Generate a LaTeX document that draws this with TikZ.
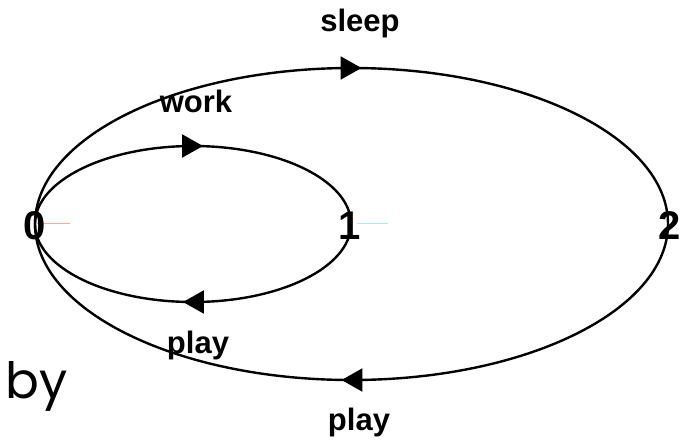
\documentclass[tikz,border=0pt]{standalone}
\usepackage{fontspec}
\setmainfont{Liberation Sans}
\newfontfamily\byfont{Poppins}
\usetikzlibrary{arrows.meta,decorations.markings}

\begin{document}
\begin{tikzpicture}[x=1pt,y=1pt,
  curve/.style={line width=2.4pt, postaction={decorate}, decoration={markings,
    mark=at position 0.5 with {\arrow[xshift=10pt]{Triangle[length=21pt,width=23pt]}}}},
  state/.style={font=\fontsize{40}{42}\selectfont\bfseries, inner sep=0pt, anchor=base},
  lbl/.style={font=\fontsize{31}{34}\selectfont\bfseries, inner sep=0pt, anchor=base}]
\useasboundingbox (0,0) rectangle (687,-442);

% states on the middle line
\coordinate (p0) at (35,-224);
\coordinate (p1) at (351,-224);
\coordinate (p2) at (668,-224);

% inner loop 0 -> 1 -> 0
\draw[curve] (p0) arc[start angle=180, end angle=0, x radius=158, y radius=78];
\draw[curve] (p1) arc[start angle=0, end angle=-180, x radius=158, y radius=78];
% outer loop 0 -> 2 -> 0
\draw[curve] (p0) arc[start angle=180, end angle=0, x radius=316.5, y radius=156];
\draw[curve] (p2) arc[start angle=0, end angle=-180, x radius=316.5, y radius=156];

% faint ticks
\draw[red!35, line width=0.7pt] (p0) ++(2,1) -- (70,-223);
\draw[cyan!30, line width=0.7pt] (p1) ++(6,1) -- (388,-223);

\node[state] (s0) at (35,-239) {0};
\node[state] (s1) at (350,-239) {1};
\node[state] (s2) at (670,-239) {2};

\node[lbl] (sleep) at (360,-31) {sleep};
\node[lbl] (work) at (196,-112) {work};
\node[lbl] (play1) at (198,-353) {play};
\node[lbl] (play2) at (359,-430) {play};

\node[font=\byfont\fontsize{50}{56}\selectfont, anchor=base west, inner sep=0pt] (by) at (5,-398) {by};
\end{tikzpicture}
\end{document}
